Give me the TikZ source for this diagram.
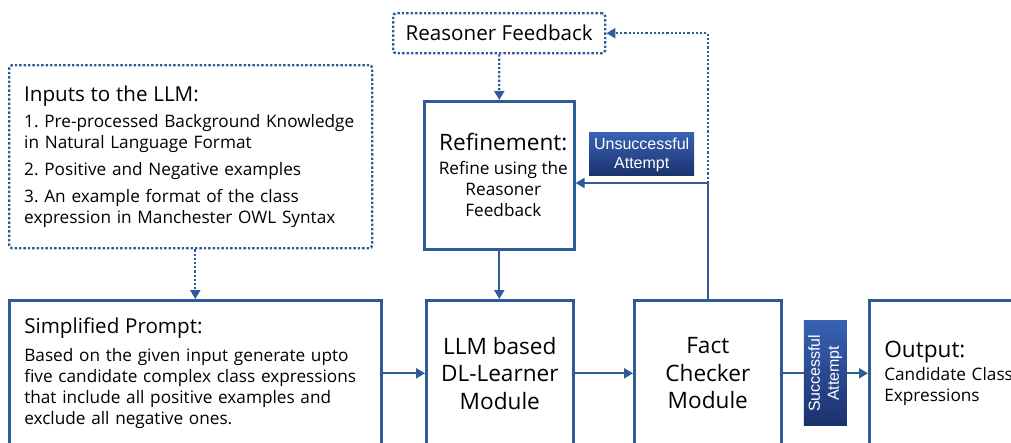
\documentclass[tikz,border=0pt]{standalone}
\usepackage{fontspec}
\setmainfont{Open Sans}
\setsansfont{Liberation Sans}
\usetikzlibrary{arrows.meta,positioning}
\frenchspacing

\definecolor{flowblue}{RGB}{46,92,152}
\definecolor{tagtop}{RGB}{56,98,178}
\definecolor{tagbot}{RGB}{27,49,110}
\newcommand{\headfont}{\fontsize{20.6}{24}\selectfont}
\newcommand{\bodyfont}{\fontsize{17.2}{21}\selectfont}
\newcommand{\modfont}{\fontsize{22.6}{27.5}\selectfont}

\begin{document}
\begin{tikzpicture}[x=1pt, y=-1pt,
  box/.style={draw=flowblue, line width=2.6pt, inner sep=0pt,
    minimum height=146},
  dotbox/.style={draw=flowblue, line width=2.4pt,
    dash pattern=on 2.4pt off 2pt, rounded corners=3pt},
  flow/.style={draw=flowblue, line width=2.2pt,
    -{Triangle[length=9pt,width=10pt]}},
  dotflow/.style={flow, dash pattern=on 2.2pt off 2pt},
  tag/.style={top color=tagtop, bottom color=tagbot, text=white,
    font=\sffamily\fontsize{16}{19}\selectfont, align=center,
    inner sep=0pt, minimum width=105, minimum height=43}]
\useasboundingbox (0,0) rectangle (1011,442);

% feedback and inputs (dotted)
\node[dotbox, anchor=north west, minimum width=212, minimum height=40]
  (feedback) at (392,12) {\headfont Reasoner Feedback};
\node[dotbox, anchor=north west, minimum width=363, minimum height=183,
  inner xsep=15pt, text width=333, align=left, font=\bodyfont]
  (inputs) at (8,64)
  {{\headfont Inputs to the LLM:}\\[5pt]
   1. Pre-processed Background Knowledge\\
   in Natural Language Format\\[6pt]
   2. Positive and Negative examples\\[6pt]
   3. An example format of the class\\
   expression in Manchester OWL Syntax};

% refinement step
\node[box, anchor=north west, minimum width=150, minimum height=148,
  align=center, font=\bodyfont] (refine) at (423,100)
  {\hspace*{8pt}{\modfont Refinement:}\\[3pt]
   \hspace*{8pt}Refine using the\\ \hspace*{8pt}Reasoner\\
   \hspace*{8pt}Feedback};

% main row
\node[box, anchor=north west, minimum width=372, inner xsep=15pt,
  text width=342, align=left, font=\bodyfont] (prompt) at (8,299)
  {{\headfont Simplified Prompt:}\\[7pt]
   Based on the given input generate upto\\
   five candidate complex class expressions\\
   that include all positive examples and\\
   exclude all negative ones.};
\node[box, anchor=north west, minimum width=147, align=center,
  font=\modfont] (llm) at (425,299)
  {LLM based\\ DL-Learner\\ Module};
\node[box, anchor=north west, minimum width=147, align=center,
  font=\modfont] (fact) at (633,299)
  {Fact\\ Checker\\ Module};
\node[box, anchor=north west, minimum width=200, inner xsep=15pt,
  text width=170, align=left, font=\bodyfont] (output) at (868,299)
  {{\modfont Output:}\\[2pt]
   Candidate Class\\ Expressions};

\draw[dotflow] (inputs.south -| prompt.north) -- (prompt.north);
\draw[dotflow] (feedback.south) -- (refine.north);
\draw[flow] (refine.south) -- (refine.south |- llm.north);
\draw[flow] (prompt.east) -- (llm.west);
\draw[flow] (llm.east) -- (fact.west);
\draw[flow] (fact.east) -- node[tag, rotate=90] (ok) {Successful\\Attempt}
  (output.west);

% loop back when the check fails
\coordinate (split) at (fact.north |- 0,183);
\draw[flow] (fact.north) -- (split) -- (refine.east |- split)
  node[tag, pos=0.5, above=6pt] (fail) {Unsuccessful\\Attempt};
\draw[dotflow] (split) |- (feedback.east);
\end{tikzpicture}
\end{document}
